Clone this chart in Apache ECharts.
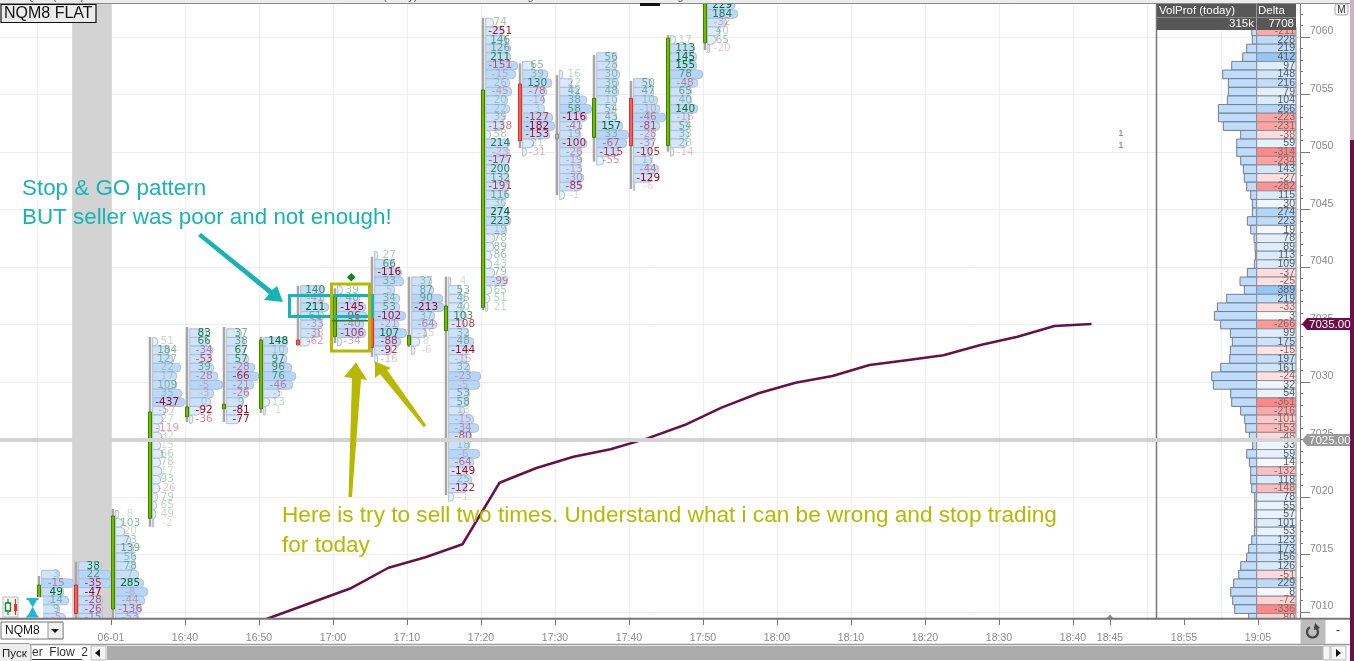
<!DOCTYPE html>
<html><head><meta charset="utf-8">
<style>html,body{margin:0;padding:0;background:#fff;overflow:hidden}#c{width:1354px;height:661px}</style>
<script src="https://cdn.jsdelivr.net/npm/echarts@6/dist/echarts.min.js"></script>
</head><body><div id="c"></div>
<script>
// ---- bar times (minutes after midnight), OHLC ----
const barTimes = [980,985,990,995,1000,1005,1010,1015,1020,1025,1030,1035,1040,1045,1050,1055,1060,1065,1070];
const barHigh  = [7013.13,7014.37,7018.96,7033.91,7034.78,7034.78,7033.94,7038.37,7038.15,7040.9,7039.16,7039.16,7061.68,7057.71,7056.7,7058.43,7056.17,7060.17,7063];
const barLow   = [7008.87,7009,7009,7017.42,7026.52,7026.52,7027.3,7033.22,7033.39,7032.2,7033.02,7020.17,7036.26,7050.35,7046.26,7049.16,7046.78,7050.03,7058.87];
const barOpen  = [7008.87,7012.35,7010.26,7018.15,7026.98,7027.68,7027.68,7033.65,7033.94,7035.63,7033.22,7034.46,7036.5,7055.91,7051.35,7051.28,7054.67,7050.55,7059.5];
const barClose = [7012.35,7009.87,7018.35,7027.39,7027.83,7028.06,7033.65,7033.22,7037.42,7033.02,7034.03,7036.61,7055.39,7050.98,7051.35,7054.67,7050.55,7059.89,7063];
const barTop   = [7013.25,7014,7018.5,7033.5,7034.25,7034.25,7033.5,7038,7038,7041,7038.75,7038.75,7061.25,7057.5,7056.75,7058.25,7056,7059.75,7062.75];
const rowStep = 0.75;
// ---- footprint cell deltas per bar ----
const deltaA=[3,-15,49,14,9,-5];
const deltaB=[38,22,-35,-47,-28,-26,-15];
const deltaC=[8,103,20,73,139,56,78,7,285,-8,-44,-136,-53];
const deltaD=[51,184,127,22,17,109,35,-437,-57,27,-119,32,15,66,78,17,93,-26,79,65,49,-2];
const deltaE=[83,66,-34,-53,39,-28,-5,-3,0,-92,-36];
const deltaF=[37,38,67,57,-28,-66,-21,-26,9,-81,-77];
const deltaG=[148,10,97,96,76,-46,-5,13,1];
const deltaH=[140,-41,211,61,-33,-38,-62];
const deltaI=[39,40,-145,-96,-40,-106,-34];
const deltaJ=[27,66,-116,33,5,34,53,-102,-21,107,-88,-92,-16];
const deltaK=[37,87,90,-213,37,-64,-15,8,-6];
const deltaL=[4,53,45,40,103,-108,32,48,-144,-15,32,-23,-5,53,58,13,-15,-34,-80,18,-6,-64,-149,25,-122,-1];
const deltaM=[74,-251,146,126,211,-151,-15,26,-45,20,22,39,-138,58,214,-23,-177,200,132,-191,116,30,274,223,19,78,89,86,43,79,-99,65,51,21];
const deltaN=[65,39,130,-78,-14,3,-127,-182,-153,21,-31];
const deltaO=[16,22,42,38,58,-116,-41,19,-100,-26,-19,-13,-30,-85,-1];
const deltaP=[56,28,30,36,48,10,54,43,157,33,-67,-115,-55];
const deltaQ=[50,47,10,-10,-46,-81,-28,-37,-105,17,-44,-129,-6];
const deltaR=[17,113,145,155,78,-48,65,40,140,-18,54,33,28,-14];
const deltaS=[229,184,-32,40,65,-20];
// ---- footprint cell volumes per bar (relative) ----
const volA=[18,32,22,27,18,24];
const volB=[23,32,33,20,24,24,24];
const volC=[3,7,9,15,18,20,20,23,28,32,29,26,23];
const volD=[5,17,20,28,24,24,29,32,13,10,7,9,8,10,8,9,8,7,5,4,3,1];
const volE=[17,19,23,21,24,28,33,24,21,11,3];
const volF=[15,18,18,22,28,32,27,22,17,15,13];
const volG=[24,24,23,28,32,29,16,6,2];
const volH=[24,23,28,23,22,19,9];
const volI=[5,22,28,29,26,28,4];
const volJ=[3,20,27,29,20,25,25,31,24,32,26,17,3];
const volK=[20,22,31,32,23,25,15,8,3];
const volL=[2,13,16,15,18,16,20,25,20,18,21,32,31,21,20,16,25,30,23,21,31,25,16,23,18,5];
const volM=[8,18,21,25,25,32,30,24,26,22,24,19,18,5,24,24,24,23,23,23,22,19,23,25,21,9,8,6,6,9,21,6,4,2];
const volN=[11,25,29,24,22,22,30,32,27,11,4];
const volO=[3,12,19,27,32,27,22,21,27,22,22,22,24,22,5];
const volP=[20,20,23,22,22,20,17,20,26,32,30,22,7];
const volQ=[18,20,24,26,32,26,21,20,18,18,25,18,1];
const volR=[5,24,26,26,32,27,21,21,27,19,18,18,16,3];
const volS=[27,30,19,12,8,2];
const allDeltas=[deltaA,deltaB,deltaC,deltaD,deltaE,deltaF,deltaG,deltaH,deltaI,deltaJ,deltaK,deltaL,deltaM,deltaN,deltaO,deltaP,deltaQ,deltaR,deltaS];
const allVols=[volA,volB,volC,volD,volE,volF,volG,volH,volI,volJ,volK,volL,volM,volN,volO,volP,volQ,volR,volS];
// ---- session profile ----
const profileTop = 7060.5;
const profileDelta=[-211,228,219,412,97,148,216,79,104,266,-223,-231,-38,59,-314,-234,143,-27,-282,115,30,274,223,19,78,89,113,109,-37,-25,389,219,-33,3,-266,99,175,-15,197,161,-24,32,54,-361,-216,-101,-153,-48,33,59,14,-132,118,-148,78,55,57,101,53,123,173,156,126,-51,229,8,-72,-336,-80];
const profileVol=[15,13,30,42,75,102,85,85,88,115,115,100,48,60,60,48,40,37,30,18,13,13,28,18,8,5,4,7,28,50,37,90,118,127,108,79,73,79,81,108,135,130,78,75,48,36,33,22,12,30,22,18,18,15,6,6,6,7,7,15,24,30,48,54,69,78,72,66,24];
// ---- VWAP line ----
const vwapTimes=[1007.5,1012.5,1017.5,1022.5,1027.5,1032.5,1037.5,1042.5,1047.5,1052.5,1057.5,1062.5,1067.5,1072.5,1077.5,1082.5,1087.5,1092.5,1097.5,1102.5,1107.5,1112.5,1117.5,1122.5];
const vwapPrices=[7008.57,7009.74,7010.91,7012.09,7013.85,7014.76,7015.89,7021.24,7022.52,7023.5,7024.15,7025.1,7026.26,7027.77,7029.02,7029.94,7030.52,7031.48,7031.9,7032.32,7033.22,7033.94,7034.87,7035.04];
// ---- axis labels ----
const xTickValues=[990,1000,1010,1020,1030,1040,1050,1060,1070,1080,1090,1100,1110,1120,1125,1135,1145];
const xTickLabels=['06-01','16:40','16:50','17:00','17:10','17:20','17:30','17:40','17:50','18:00','18:10','18:20','18:30','18:40','18:45','18:55','19:05'];
const sessionGap=[984.75,990.1];
const thickPrice=7025;

const UI='"Liberation Sans",Arial,sans-serif';
const DV='"DejaVu Sans",sans-serif';
const COL={green:'#6fbe00',greenS:'#3f7f00',red:'#ff5c5c',redS:'#c23a30',teal:'#17b4b6',olive:'#b6b900',maroon:'#6a0f4a'};
function mix(a,b,t){t=Math.max(0,Math.min(1,t));return 'rgb('+a.map((v,i)=>Math.round(v+(b[i]-v)*t)).join(',')+')';}

function renderBar(params,api){
  const i=params.dataIndex, t=barTimes[i], xc=api.coord([t,barTop[i]])[0]+2, ch=[];
  const y=p=>api.coord([t,p])[1];
  const ds=allDeltas[i], vs=allVols[i], maxD=Math.max.apply(null,ds.map(Math.abs));
  const rh=y(0)-y(rowStep);
  const left=xc+2.7;
  ds.forEach((d,k)=>{
    const cy=y(barTop[i]-rowStep*k), w=vs[k];
    ch.push({type:'rect',shape:{x:left,y:cy-rh/2,width:w,height:rh,r:[0,4,4,0]},
      style:{fill:mix([240,247,255],[180,214,252],w/32),stroke:'#b4bdc9',lineWidth:1}});
  });
  ch.push({type:'line',shape:{x1:xc,y1:y(barHigh[i]),x2:xc,y2:y(barLow[i])},style:{stroke:'#a6a6a6',lineWidth:2.5}});
  const o=barOpen[i],c=barClose[i];
  let top=y(Math.max(o,c)),bot=y(Math.min(o,c));
  if(o===c){top-=2.5;bot+=2.5;}
  const fill=o===c?'#b5b5b5':(c>o?COL.green:COL.red), st=o===c?'#8a8a8a':(c>o?COL.greenS:COL.redS);
  ch.push({type:'rect',shape:{x:xc-1.5,y:top,width:3,height:bot-top},style:{fill:fill,stroke:st,lineWidth:1}});
  ds.forEach((d,k)=>{
    const cy=y(barTop[i]-rowStep*k);
    const a=0.18+0.82*Math.pow(Math.abs(d)/maxD,1.1);
    const col=(d<0?'rgba(170,0,30,':'rgba(0,105,40,')+a.toFixed(2)+')';
    ch.push({type:'text',style:{text:String(d),x:left+14.5,y:cy,fill:col,font:'10.5px '+DV,align:'center',verticalAlign:'middle',textAlign:'center',textVerticalAlign:'middle'}});
  });
  return {type:'group',children:ch};
}
function renderProfile(params,api){
  const i=params.dataIndex,d=profileDelta[i],p=profileTop-rowStep*i,ch=[];
  const cy=api.coord([1100,p])[1],rh=api.coord([1100,p-rowStep])[1]-cy;
  const xMid=1256.7,xEnd=1296,w=profileVol[i]/3;
  ch.push({type:'rect',shape:{x:xMid-w,y:cy-rh/2,width:w,height:rh},style:{fill:'#bfdcfd',stroke:'#757d85',lineWidth:1}});
  const fill=d>=0?mix([255,255,255],[150,198,245],0.08+Math.abs(d)/420):mix([255,255,255],[255,135,135],0.2+Math.abs(d)/400);
  ch.push({type:'rect',shape:{x:xMid,y:cy-rh/2,width:xEnd-xMid,height:rh},style:{fill:fill,stroke:'#8a9098',lineWidth:1}});
  ch.push({type:'text',style:{text:String(d),x:xEnd-1,y:cy,fill:d<0?'#8a6666':'#4f5a66',font:'10.5px '+UI,align:'right',verticalAlign:'middle',textAlign:'right',textVerticalAlign:'middle'}});
  return {type:'group',children:ch};
}

const Z=6;
function txt(text,x,y,fill,font,align,z){return {type:'text',z:z||Z,silent:true,style:{text:text,x:x,y:y,fill:fill,font:font,align:align||'left',verticalAlign:'middle',textAlign:align||'left',textVerticalAlign:'middle'}};}
function rect(x,y,w,h,fill,stroke,z,lw,r){return {type:'rect',z:z||Z,silent:true,shape:{x:x,y:y,width:w,height:h,r:r||0},style:{fill:fill,stroke:stroke||null,lineWidth:lw||1}};}
function poly(pts,fill,z){return {type:'polygon',z:z||Z,silent:true,shape:{points:pts},style:{fill:fill}};}
function ln(x1,y1,x2,y2,c,lw,z){return {type:'line',z:z||Z,silent:true,shape:{x1:x1,y1:y1,x2:x2,y2:y2},style:{stroke:c,lineWidth:lw}};}

const overlays=[
  // covers that frame the plot
  rect(0,619,1354,42,'#ffffff',null,5),
  rect(0,0,1354,4,'#ececec',null,5),
  rect(1350,0,4,140,'#c9b4c4',null,7),
  rect(1350,140,4,521,COL.maroon,null,7),
  // top status text
  {type:'text',z:7,silent:true,style:{text:'NQM8 (5min)  VPOC  VWAP  Volume  VolumeBreakdown  VolProf  VolProf(today)  Delta  VWAP  Working Orders  VWAP  Fill  0  Trading Accounts / Account  Positions / Orders',x:18,y:2.5,fill:'#555',font:'11px '+UI,align:'left',verticalAlign:'bottom',textAlign:'left',textVerticalAlign:'bottom'}},
  ln(0,3.5,1350,3.5,'#8a8a8a',1,7),
  rect(640,3,20,3,'#111',null,7),
  // instrument badge
  rect(1,4.5,95,18,'#ececec','#111',8,1.2),
  txt('NQM8 FLAT',4,14,'#111','16px '+UI,'left',9),
  // profile panel
  ln(1156.5,4,1156.5,618,'#777',1.5,4),
  rect(1157,4,139,26,'#575757',null,7),
  ln(1157,17.5,1296,17.5,'#8a8a8a',1,8),
  ln(1256.5,4,1256.5,30,'#9a9a9a',1,8),
  txt('VolProf (today)',1159,11,'#fff','11.5px '+UI,'left',9),
  txt('Delta',1258,11,'#fff','11.5px '+UI,'left',9),
  txt('315k',1254,24,'#fff','11.5px '+UI,'right',9),
  txt('7708',1294,24,'#fff','11.5px '+UI,'right',9),
  rect(1335,4,13,11,'#f4f4f4','#aaa',9,1,2),
  txt('M',1341.5,10,'#333','10px '+UI,'center',10),
  txt('1',1121,133,'#777','9.5px '+UI,'center',6),
  txt('1',1121,145,'#777','9.5px '+UI,'center',6),
  // price tags
  poly([[1302,324],[1307,318],[1350,318],[1350,330],[1307,330]],COL.maroon,8),
  txt('7035.00',1309,324.5,'#fff','11.5px '+UI,'left',9),
  poly([[1302,440],[1307,434],[1350,434],[1350,446],[1307,446]],'#9a9a9a',8),
  txt('7025.00',1309,440.5,'#fff','11.5px '+UI,'left',9),
  // annotations
  txt('Stop & GO pattern',22,188.5,COL.teal,'22.4px '+UI),
  txt('BUT seller was poor and not enough!',22,218,COL.teal,'22.4px '+UI),
  poly([[198,236],[201,233],[272,290],[277,286],[283,302],[264,300],[269,294]],COL.teal,7),
  rect(289.5,295.5,83,21,'rgba(0,0,0,0)',COL.teal,7,3),
  rect(331.5,284,38,67,'rgba(0,0,0,0)',COL.olive,7,3),
  poly([[348.5,497],[352,497],[361,379],[367,380],[356,362.5],[344,377],[352,378]],COL.olive,7),
  poly([[424,427.5],[426,425],[387,370],[391,368],[375,361.5],[375,378],[380,374]],COL.olive,7),
  txt('Here is try to sell two times. Understand what i can be wrong and stop trading',282,515.5,COL.olive,'22.6px '+UI),
  txt('for today',282,545.5,COL.olive,'22.6px '+UI),
  // execution marks
  poly([[351.3,273],[355.5,277.3],[351.3,281.5],[347,277.3]],'#0b8a12',7),
  ln(332,320.7,368,320.7,'#2f7d2f',1.5,7),
  // toolbar icons
  rect(0,597,43,21.5,'#ffffff',null,6),
  rect(3,597,15,20,'#f6f6f6','#bbb',7),
  ln(8,599,8,615,'#0a8a20',1.2,8),rect(5.5,603,5,8,'#fff','#0a8a20',8,1.4),
  ln(15.5,599,15.5,615,'#e0342a',1.2,8),rect(14,604,3,7,'#e0342a',null,8),
  poly([[27,598],[38,598],[33,607],[38,617],[27,617],[32.5,607]],'#1fb6dc',8),
  rect(26.5,598,12,2,'#1fb6dc',null,8),rect(26.5,615.5,12,2,'#1fb6dc',null,8),
  // bottom bar
  ln(0,618.75,1350,618.75,'#767676',2,11),
  ln(0,644.5,1350,644.5,'#9a9a9a',1.5,11),
  rect(1,622,62,17,'#ffffff','#777',11),
  txt('NQM8',5,631,'#111','12px '+UI,'left',12),
  rect(48,622.5,15,16,'#f0f0f0','#999',12),
  poly([[51,629],[59,629],[55,633]],'#111',13),
  rect(1300.5,620,25,24,'#bdbdbd',null,11),
  {type:'arc',z:13,silent:true,shape:{cx:1312.5,cy:632,r:5.5,startAngle:-1.2,endAngle:4.2,clockwise:true},style:{stroke:'#444',lineWidth:2.2,fill:'none'}},
  poly([[1315,623],[1320,628],[1314,630]],'#444',13),
  txt('-',1338,631,'#222','12px '+UI,'center',12),
  // scrollbar
  rect(107,646,1216,14,'#ababab',null,11),
  rect(91,646,15,14,'#f4f4f4','#bbb',11),
  poly([[100,649],[100,657],[95,653]],'#111',12),
  rect(1323,646,7,14,'#f4f4f4','#bbb',11),
  rect(1331,646,15,14,'#f4f4f4','#bbb',11),
  poly([[1336,649],[1336,657],[1341,653]],'#111',12),
  txt('er  Flow  2',32,653,'#333','12px '+UI,'left',12),
  ln(32,659.5,82,659.5,'#333',1,12),
  rect(-3,643.5,34,20,'#ededed','#999',13,1,3),
  txt('Пуск',2,654,'#222','11.5px '+UI,'left',14),
  // session marker
  poly([[1106,619],[1114,619],[1110,614.5]],'#8f8f8f',6)
];

const xMin=970,xMax=1150.676;
const chart=echarts.init(document.getElementById('c'),null,{renderer:'canvas',width:1354,height:661});
chart.setOption({
  animation:false,
  backgroundColor:'#ffffff',
  grid:{left:-37,top:-20.5,width:1337,height:690,containLabel:false,outerBoundsMode:'none'},
  xAxis:[
    {type:'value',min:xMin,max:xMax,interval:10,axisLine:{show:false},axisTick:{show:false},axisLabel:{show:false},
     splitLine:{show:true,lineStyle:{color:'#eeeeee',width:1}}},
    {type:'value',min:xMin,max:xMax,position:'bottom',offset:-50.5,z:10,
     axisLine:{show:false,onZero:false},
     axisTick:{show:true,length:6,lineStyle:{color:'#777'},customValues:xTickValues},
     axisLabel:{show:true,color:'#8a8a8a',margin:14,fontFamily:UI,fontSize:10.5,customValues:xTickValues,
       formatter:v=>xTickLabels[xTickValues.indexOf(v)]||''},
     splitLine:{show:false}}
  ],
  yAxis:{type:'value',position:'right',min:7005,max:7065,interval:5,
    axisLine:{show:true,lineStyle:{color:'#777',width:1}},
    axisTick:{show:true,length:10,lineStyle:{color:'#777'}},
    minorTick:{show:true,splitNumber:5,length:3,lineStyle:{color:'#777'}},
    axisLabel:{show:true,color:'#8a8a8a',fontFamily:UI,fontSize:10.5,margin:10,verticalAlign:'bottom',formatter:v=>String(v)},
    splitLine:{show:true,lineStyle:{color:'#eeeeee',width:1}}},
  series:[
    {type:'line',z:1,data:[],silent:true,xAxisIndex:0,
     markArea:{silent:true,itemStyle:{color:'#d3d3d3'},data:[[{xAxis:sessionGap[0]},{xAxis:sessionGap[1]}]]},
     markLine:{silent:true,symbol:'none',label:{show:false},lineStyle:{color:'#d3d3d3',width:4,type:'solid'},data:[{yAxis:thickPrice}]}},
    {type:'custom',z:3,xAxisIndex:0,silent:true,renderItem:renderProfile,
     data:profileDelta.map((d,i)=>[1100,profileTop-rowStep*i])},
    {type:'custom',z:3,xAxisIndex:0,silent:true,renderItem:renderBar,
     data:barTimes.map((t,i)=>[t,barTop[i]])},
    {type:'line',z:4,xAxisIndex:0,silent:true,showSymbol:false,symbol:'none',smooth:false,
     lineStyle:{color:COL.maroon,width:2.5},data:vwapTimes.map((t,i)=>[t,vwapPrices[i]])}
  ],
  graphic:{elements:overlays}
});
</script></body></html>
